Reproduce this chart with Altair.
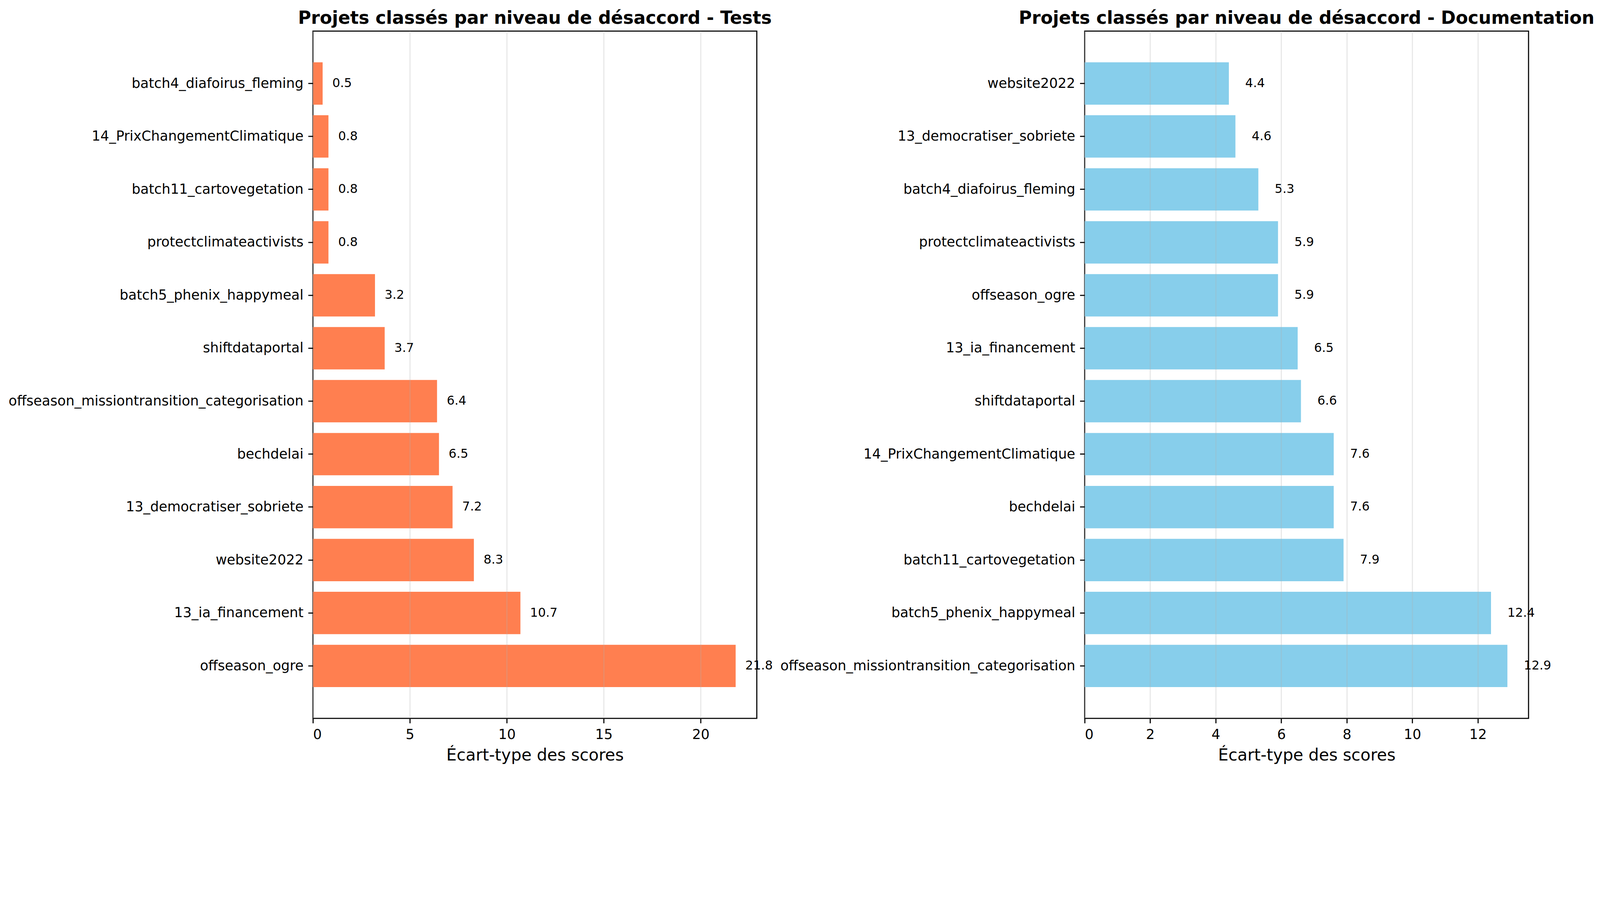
import altair as alt
import pandas as pd

# Data (top to bottom order as displayed)
tests_projects = [
    "batch4_diafoirus_fleming",
    "14_PrixChangementClimatique",
    "batch11_cartovegetation",
    "protectclimateactivists",
    "batch5_phenix_happymeal",
    "shiftdataportal",
    "offseason_missiontransition_categorisation",
    "bechdelai",
    "13_democratiser_sobriete",
    "website2022",
    "13_ia_financement",
    "offseason_ogre",
]
tests_values = [0.5, 0.8, 0.8, 0.8, 3.2, 3.7, 6.4, 6.5, 7.2, 8.3, 10.7, 21.8]

doc_projects = [
    "website2022",
    "13_democratiser_sobriete",
    "batch4_diafoirus_fleming",
    "protectclimateactivists",
    "offseason_ogre",
    "13_ia_financement",
    "shiftdataportal",
    "14_PrixChangementClimatique",
    "bechdelai",
    "batch11_cartovegetation",
    "batch5_phenix_happymeal",
    "offseason_missiontransition_categorisation",
]
doc_values = [4.4, 4.6, 5.3, 5.9, 5.9, 6.5, 6.6, 7.6, 7.6, 7.9, 12.4, 12.9]

tests_ticks = [0, 5, 10, 15, 20]
doc_ticks = [0, 2, 4, 6, 8, 10, 12]

FONT = "DejaVu Sans"
PT = 300 / 72.0  # px per point at 300 dpi
W, H = 1351, 2092


def panel(projects, values, ticks, color, title):
    df = pd.DataFrame({"projet": projects, "val": values})
    df["label"] = [f"{v:.1f}" for v in values]
    xmax = max(values) * 1.05
    x_scale = alt.Scale(domain=[0, xmax], nice=False, zero=True)
    y_scale = alt.Scale(paddingInner=0.2, paddingOuter=0.59)
    x_axis = alt.Axis(
        values=ticks,
        format="d",
        title="Écart-type des scores",
        grid=True,
        gridColor="#b0b0b0",
        gridOpacity=0.3,
        gridWidth=0.8 * PT,
        domain=False,
        ticks=True,
        tickSize=3.5 * PT,
        tickWidth=0.8 * PT,
        tickColor="black",
        labelPadding=3.5 * PT,
        labelFontSize=10 * PT,
        labelFont=FONT,
        labelColor="black",
        titleFontSize=12 * PT,
        titleFont=FONT,
        titleFontWeight="normal",
        titleColor="black",
        titlePadding=4 * PT,
        zindex=1,
    )
    y_axis = alt.Axis(
        title=None,
        grid=False,
        domain=False,
        ticks=True,
        tickSize=3.5 * PT,
        tickWidth=0.8 * PT,
        tickColor="black",
        labelPadding=3.5 * PT,
        labelFontSize=10 * PT,
        labelFont=FONT,
        labelColor="black",
        labelLimit=2000,
        zindex=1,
    )
    base = alt.Chart(df)
    bars = base.mark_bar(color=color, cornerRadius=0).encode(
        x=alt.X("val:Q", scale=x_scale, axis=x_axis),
        y=alt.Y("projet:N", sort=projects, scale=y_scale, axis=y_axis),
    )
    texts = base.transform_calculate(pos="datum.val + 0.5").mark_text(
        align="left", baseline="middle", fontSize=9 * PT, font=FONT, color="black"
    ).encode(
        x=alt.X("pos:Q", scale=x_scale),
        y=alt.Y("projet:N", sort=projects, scale=y_scale),
        text="label:N",
    )
    return alt.layer(bars, texts).properties(
        width=W,
        height=H,
        title=alt.TitleParams(
            text=title,
            fontSize=13 * PT,
            fontWeight="bold",
            font=FONT,
            color="black",
            anchor="middle",
            offset=11,
        ),
    )


left = panel(tests_projects, tests_values, tests_ticks, "#FF7F50",
             "Projets classés par niveau de désaccord - Tests")
right = panel(doc_projects, doc_values, doc_ticks, "#87CEEB",
              "Projets classés par niveau de désaccord - Documentation")

chart = alt.hconcat(left, right, spacing=18).properties(
    padding={"left": 14, "top": -169, "right": 5, "bottom": -150}
).configure(
    background="white"
).configure_view(
    stroke="black", strokeWidth=0.8 * PT
)

chart.save("out.html", embed_options={"renderer": "svg", "actions": False})
